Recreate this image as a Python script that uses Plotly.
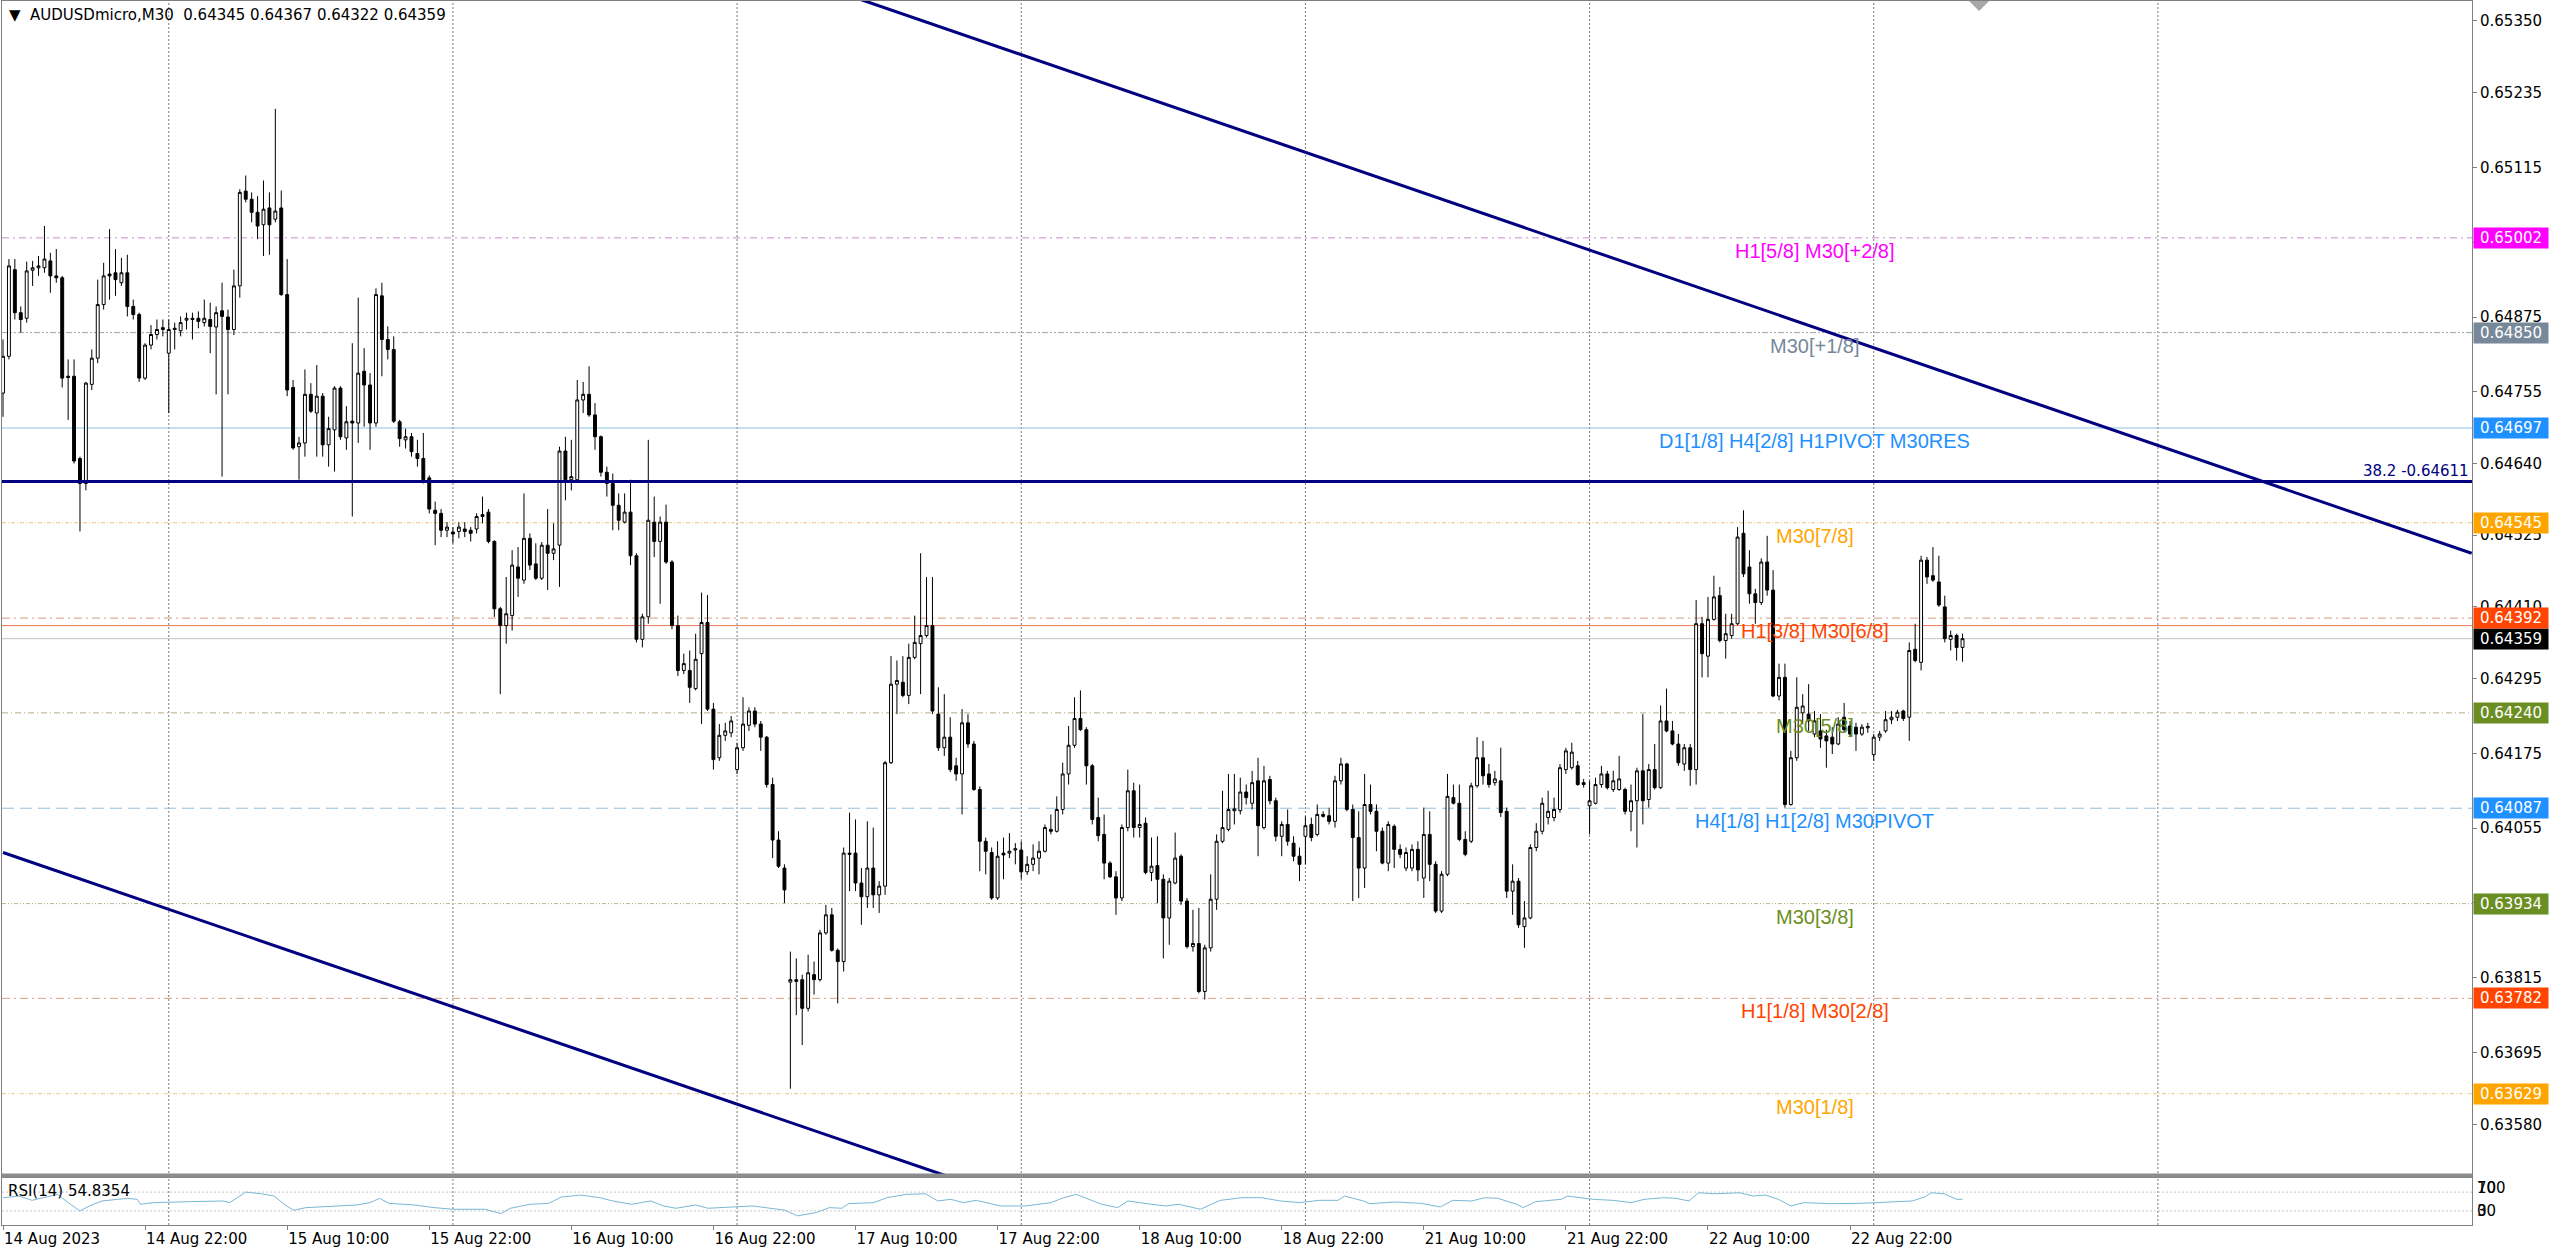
import plotly.graph_objects as go

# ---------------- data ----------------
bar_open = [
 0.64753,0.64812,0.64951,0.64882,0.64873,0.64950,0.64954,0.64954,0.64965,0.64941,
 0.64938,0.64780,0.64780,0.64648,0.64608,0.64767,0.64809,0.64895,0.64944,0.64946,
 0.64930,0.64946,0.64892,0.64879,0.64777,0.64830,0.64847,0.64855,0.64817,0.64857,
 0.64853,0.64870,0.64873,0.64873,0.64866,0.64871,0.64859,0.64885,0.64875,0.64855,
 0.64925,0.65077,0.65064,0.65043,0.65023,0.65050,0.65032,0.65050,0.64911,0.64762,
 0.64667,0.64673,0.64751,0.64721,0.64748,0.64670,0.64694,0.64761,0.64681,0.64708,
 0.64705,0.64788,0.64766,0.64705,0.64909,0.64839,0.64823,0.64707,0.64678,0.64683,
 0.64656,0.64648,0.64617,0.64565,0.64560,0.64533,0.64530,0.64531,0.64535,0.64533,
 0.64535,0.64558,0.64562,0.64515,0.64407,0.64380,0.64396,0.64474,0.64453,0.64520,
 0.64479,0.64456,0.64509,0.64496,0.64509,0.64660,0.64614,0.64614,0.64742,0.64751,
 0.64718,0.64683,0.64626,0.64608,0.64573,0.64546,0.64562,0.64492,0.64358,0.64394,
 0.64546,0.64515,0.64546,0.64482,0.64380,0.64308,0.64308,0.64279,0.64335,0.64385,
 0.64246,0.64168,0.64204,0.64208,0.64149,0.64184,0.64220,0.64243,0.64222,0.64201,
 0.64125,0.64036,0.63991,0.63808,0.63809,0.63812,0.63766,0.63820,0.63812,0.63887,
 0.63916,0.63859,0.63841,0.64015,0.64015,0.63967,0.63945,0.63991,0.63948,0.63962,
 0.64160,0.64286,0.64289,0.64268,0.64329,0.64351,0.64364,0.64380,0.64238,0.64184,
 0.64201,0.64155,0.64142,0.64224,0.64190,0.64117,0.64034,0.64016,0.63943,0.64015,
 0.64015,0.64020,0.64020,0.63985,0.63997,0.64007,0.64018,0.64053,0.64050,0.64085,
 0.64142,0.64188,0.64231,0.64213,0.64155,0.64072,0.64045,0.63999,0.63977,0.63943,
 0.64056,0.64115,0.64056,0.64063,0.63984,0.63995,0.63973,0.63911,0.63967,0.64010,
 0.63938,0.63865,0.63870,0.63793,0.63863,0.63941,0.64034,0.64053,0.64083,0.64083,
 0.64113,0.64095,0.64131,0.64056,0.64133,0.64099,0.64042,0.64061,0.64031,0.64010,
 0.64042,0.64061,0.64045,0.64077,0.64075,0.64066,0.64131,0.64158,0.64085,0.64040,
 0.63991,0.64093,0.64082,0.64050,0.63999,0.64058,0.64021,0.63991,0.63991,0.64021,
 0.63975,0.64045,0.63997,0.63922,0.63981,0.64104,0.64095,0.64037,0.64034,0.64123,
 0.64168,0.64142,0.64128,0.64131,0.64082,0.63954,0.63970,0.63897,0.63911,0.64024,
 0.64050,0.64072,0.64072,0.64085,0.64149,0.64152,0.64155,0.64128,0.64091,0.64095,
 0.64125,0.64142,0.64117,0.64117,0.64117,0.64082,0.64099,0.64147,0.64101,0.64149,
 0.64120,0.64227,0.64211,0.64190,0.64158,0.64184,0.64149,0.64383,0.64331,0.64390,
 0.64428,0.64356,0.64364,0.64383,0.64528,0.64474,0.64431,0.64417,0.64482,0.64437,
 0.64267,0.64297,0.64093,0.64168,0.64240,0.64238,0.64206,0.64211,0.64203,0.64201,
 0.64190,0.64233,0.64219,0.64217,0.64206,0.64216,0.64173,0.64201,0.64211,0.64229,
 0.64233,0.64243,0.64233,0.64342,0.64321,0.64485,0.64460,0.64450,0.64410,0.64358,
 0.64364,0.64345]

bar_high = [
 0.64839,0.64968,0.64968,0.64892,0.64964,0.64965,0.64973,0.65021,0.64978,0.64984,
 0.64941,0.64807,0.64807,0.64651,0.64771,0.64823,0.64935,0.64962,0.65016,0.64984,
 0.64970,0.64975,0.64903,0.64882,0.64833,0.64862,0.64871,0.64871,0.64871,0.64866,
 0.64876,0.64882,0.64882,0.64884,0.64903,0.64898,0.64892,0.64930,0.64887,0.64951,
 0.65080,0.65102,0.65075,0.65069,0.65094,0.65075,0.65209,0.65078,0.64968,0.64774,
 0.64683,0.64791,0.64769,0.64798,0.64753,0.64715,0.64764,0.64764,0.64732,0.64833,
 0.64906,0.64825,0.64785,0.64921,0.64930,0.64860,0.64844,0.64710,0.64696,0.64689,
 0.64678,0.64689,0.64621,0.64579,0.64567,0.64546,0.64538,0.64546,0.64546,0.64538,
 0.64560,0.64587,0.64567,0.64517,0.64410,0.64458,0.64501,0.64506,0.64592,0.64528,
 0.64512,0.64514,0.64567,0.64544,0.64667,0.64683,0.64678,0.64774,0.64771,0.64796,
 0.64737,0.64685,0.64635,0.64624,0.64592,0.64592,0.64614,0.64496,0.64399,0.64678,
 0.64587,0.64555,0.64574,0.64485,0.64396,0.64335,0.64340,0.64367,0.64433,0.64429,
 0.64256,0.64222,0.64224,0.64235,0.64192,0.64265,0.64249,0.64249,0.64227,0.64203,
 0.64136,0.64050,0.63997,0.63857,0.63846,0.63820,0.63852,0.63841,0.63892,0.63932,
 0.63927,0.63862,0.64024,0.64080,0.64069,0.63991,0.64066,0.64056,0.63970,0.64163,
 0.64331,0.64324,0.64331,0.64351,0.64396,0.64496,0.64458,0.64458,0.64281,0.64270,
 0.64233,0.64168,0.64246,0.64238,0.64195,0.64122,0.64040,0.64024,0.64034,0.64040,
 0.64047,0.64031,0.64034,0.64010,0.64029,0.64034,0.64061,0.64077,0.64106,0.64160,
 0.64219,0.64265,0.64276,0.64217,0.64158,0.64104,0.64077,0.64002,0.63986,0.64061,
 0.64149,0.64128,0.64125,0.64072,0.64040,0.64042,0.63981,0.63975,0.64048,0.64013,
 0.63943,0.63924,0.63927,0.63868,0.63981,0.64045,0.64115,0.64142,0.64142,0.64136,
 0.64125,0.64147,0.64168,0.64155,0.64139,0.64104,0.64066,0.64085,0.64042,0.64024,
 0.64074,0.64072,0.64093,0.64082,0.64088,0.64139,0.64168,0.64160,0.64093,0.64082,
 0.64142,0.64125,0.64093,0.64056,0.64066,0.64061,0.64029,0.64024,0.64029,0.64034,
 0.64088,0.64082,0.64002,0.63986,0.64142,0.64125,0.64125,0.64050,0.64128,0.64201,
 0.64195,0.64158,0.64147,0.64184,0.64088,0.63997,0.63975,0.63938,0.64029,0.64063,
 0.64104,0.64115,0.64104,0.64158,0.64184,0.64192,0.64163,0.64134,0.64131,0.64136,
 0.64155,0.64147,0.64147,0.64171,0.64120,0.64125,0.64152,0.64238,0.64158,0.64190,
 0.64252,0.64279,0.64227,0.64206,0.64190,0.64190,0.64421,0.64394,0.64426,0.64460,
 0.64442,0.64399,0.64399,0.64538,0.64565,0.64501,0.64439,0.64488,0.64524,0.64469,
 0.64319,0.64319,0.64179,0.64297,0.64270,0.64286,0.64243,0.64238,0.64213,0.64217,
 0.64233,0.64256,0.64227,0.64224,0.64222,0.64224,0.64206,0.64211,0.64243,0.64243,
 0.64245,0.64245,0.64353,0.64383,0.64492,0.64490,0.64506,0.64492,0.64428,0.64372,
 0.64367,0.64367]

bar_low = [
 0.64715,0.64807,0.64871,0.64850,0.64866,0.64925,0.64941,0.64946,0.64914,0.64930,
 0.64762,0.64710,0.64640,0.64531,0.64597,0.64758,0.64801,0.64887,0.64903,0.64909,
 0.64925,0.64876,0.64871,0.64771,0.64774,0.64823,0.64839,0.64844,0.64721,0.64823,
 0.64844,0.64855,0.64839,0.64857,0.64860,0.64817,0.64751,0.64619,0.64751,0.64846,
 0.64906,0.65059,0.65027,0.65000,0.64973,0.64975,0.65027,0.64909,0.64748,0.64662,
 0.64614,0.64651,0.64721,0.64651,0.64651,0.64635,0.64627,0.64678,0.64662,0.64555,
 0.64673,0.64699,0.64662,0.64699,0.64780,0.64807,0.64705,0.64667,0.64664,0.64651,
 0.64635,0.64608,0.64560,0.64509,0.64522,0.64522,0.64512,0.64520,0.64522,0.64515,
 0.64528,0.64544,0.64512,0.64394,0.64270,0.64351,0.64372,0.64426,0.64447,0.64469,
 0.64453,0.64453,0.64437,0.64485,0.64442,0.64581,0.64597,0.64610,0.64721,0.64715,
 0.64662,0.64619,0.64587,0.64533,0.64533,0.64544,0.64477,0.64353,0.64345,0.64383,
 0.64490,0.64415,0.64479,0.64374,0.64299,0.64302,0.64256,0.64276,0.64222,0.64243,
 0.64149,0.64163,0.64195,0.64201,0.64142,0.64179,0.64211,0.64217,0.64179,0.64120,
 0.64007,0.63991,0.63935,0.63637,0.63755,0.63707,0.63761,0.63788,0.63809,0.63884,
 0.63857,0.63774,0.63825,0.63954,0.63954,0.63900,0.63927,0.63927,0.63919,0.63948,
 0.64158,0.64238,0.64265,0.64254,0.64326,0.64270,0.64361,0.64238,0.64179,0.64171,
 0.64145,0.64131,0.64077,0.64184,0.64115,0.63986,0.63981,0.63940,0.63940,0.63973,
 0.64007,0.63997,0.63973,0.63980,0.63986,0.63981,0.64016,0.64045,0.64048,0.64077,
 0.64125,0.64184,0.64211,0.64125,0.64061,0.64034,0.63973,0.63975,0.63916,0.63938,
 0.64050,0.64040,0.64040,0.63981,0.63970,0.63935,0.63846,0.63868,0.63965,0.63932,
 0.63862,0.63857,0.63790,0.63780,0.63857,0.63924,0.64031,0.64050,0.64061,0.64077,
 0.64093,0.64085,0.64010,0.64053,0.64093,0.64034,0.64010,0.64027,0.64002,0.63970,
 0.63997,0.64034,0.64042,0.64072,0.64061,0.64056,0.64125,0.64082,0.63938,0.63943,
 0.63959,0.64077,0.64018,0.63997,0.63986,0.63991,0.64007,0.63986,0.63986,0.63970,
 0.63943,0.63970,0.63919,0.63919,0.63978,0.64093,0.64034,0.64010,0.64031,0.64120,
 0.64125,0.64120,0.64123,0.64073,0.63943,0.63916,0.63895,0.63863,0.63909,0.64018,
 0.64045,0.64061,0.64066,0.64080,0.64142,0.64149,0.64123,0.64120,0.64045,0.64093,
 0.64120,0.64117,0.64113,0.64115,0.64077,0.64050,0.64024,0.64061,0.64088,0.64117,
 0.64118,0.64209,0.64188,0.64155,0.64147,0.64123,0.64125,0.64297,0.64297,0.64388,
 0.64353,0.64327,0.64359,0.64381,0.64458,0.64415,0.64383,0.64413,0.64428,0.64265,
 0.64260,0.64088,0.64091,0.64163,0.64222,0.64211,0.64201,0.64184,0.64152,0.64174,
 0.64188,0.64208,0.64201,0.64179,0.64203,0.64208,0.64163,0.64195,0.64208,0.64222,
 0.64227,0.64227,0.64195,0.64321,0.64308,0.64447,0.64450,0.64410,0.64353,0.64340,
 0.64324,0.64322]

bar_close = [
 0.64812,0.64957,0.64882,0.64871,0.64949,0.64954,0.64957,0.64968,0.64941,0.64938,
 0.64777,0.64778,0.64644,0.64608,0.64769,0.64809,0.64895,0.64941,0.64941,0.64935,
 0.64946,0.64892,0.64879,0.64777,0.64830,0.64847,0.64855,0.64858,0.64855,0.64855,
 0.64866,0.64873,0.64871,0.64868,0.64873,0.64860,0.64882,0.64876,0.64855,0.64925,
 0.65075,0.65064,0.65043,0.65021,0.65048,0.65023,0.65045,0.64911,0.64758,0.64665,
 0.64673,0.64751,0.64724,0.64748,0.64670,0.64696,0.64761,0.64683,0.64707,0.64705,
 0.64785,0.64766,0.64705,0.64911,0.64839,0.64823,0.64708,0.64680,0.64683,0.64659,
 0.64648,0.64614,0.64567,0.64560,0.64533,0.64538,0.64527,0.64538,0.64531,0.64528,
 0.64555,0.64555,0.64515,0.64407,0.64380,0.64399,0.64477,0.64456,0.64520,0.64477,
 0.64456,0.64509,0.64496,0.64503,0.64660,0.64614,0.64619,0.64742,0.64751,0.64718,
 0.64683,0.64626,0.64608,0.64573,0.64549,0.64562,0.64492,0.64358,0.64394,0.64549,
 0.64515,0.64546,0.64482,0.64380,0.64308,0.64319,0.64281,0.64326,0.64385,0.64246,
 0.64165,0.64204,0.64211,0.64227,0.64184,0.64222,0.64243,0.64222,0.64201,0.64125,
 0.64036,0.63994,0.63956,0.63812,0.63812,0.63766,0.63823,0.63812,0.63887,0.63916,
 0.63859,0.63841,0.64015,0.64013,0.63967,0.63945,0.63991,0.63948,0.63962,0.64160,
 0.64286,0.64292,0.64268,0.64329,0.64353,0.64364,0.64380,0.64243,0.64184,0.64201,
 0.64149,0.64142,0.64224,0.64190,0.64117,0.64034,0.64018,0.63943,0.64010,0.64012,
 0.64018,0.64022,0.63985,0.63997,0.64007,0.64018,0.64056,0.64050,0.64085,0.64142,
 0.64188,0.64231,0.64213,0.64155,0.64069,0.64043,0.63999,0.63977,0.63943,0.64056,
 0.64115,0.64056,0.64061,0.63984,0.63994,0.63973,0.63911,0.63970,0.64007,0.63938,
 0.63865,0.63870,0.63793,0.63863,0.63941,0.64034,0.64056,0.64085,0.64086,0.64113,
 0.64104,0.64128,0.64059,0.64131,0.64099,0.64042,0.64061,0.64034,0.64010,0.63997,
 0.64059,0.64040,0.64077,0.64074,0.64066,0.64131,0.64158,0.64085,0.64040,0.63991,
 0.64093,0.64082,0.64050,0.63999,0.64061,0.64021,0.64013,0.64016,0.64021,0.63988,
 0.64045,0.63997,0.63922,0.63981,0.64106,0.64095,0.64037,0.64013,0.64123,0.64168,
 0.64139,0.64125,0.64134,0.64080,0.63954,0.63970,0.63900,0.63911,0.64024,0.64050,
 0.64095,0.64082,0.64085,0.64152,0.64179,0.64177,0.64125,0.64125,0.64099,0.64125,
 0.64142,0.64120,0.64131,0.64134,0.64082,0.64099,0.64147,0.64099,0.64149,0.64120,
 0.64227,0.64211,0.64190,0.64160,0.64184,0.64149,0.64383,0.64335,0.64390,0.64426,
 0.64356,0.64367,0.64383,0.64522,0.64463,0.64431,0.64417,0.64482,0.64437,0.64267,
 0.64297,0.64093,0.64168,0.64249,0.64251,0.64227,0.64227,0.64198,0.64195,0.64190,
 0.64222,0.64213,0.64206,0.64206,0.64217,0.64218,0.64201,0.64206,0.64229,0.64233,
 0.64241,0.64231,0.64340,0.64324,0.64485,0.64458,0.64453,0.64413,0.64359,0.64364,
 0.64345,0.64359]

bar_index = list(range(len(bar_close)))

date_tick_bars = [0, 24, 48, 72, 96, 120, 144, 168, 192, 216, 240, 264, 288, 312]
date_tick_text = ["14 Aug 2023", "14 Aug 22:00", "15 Aug 10:00", "15 Aug 22:00",
                  "16 Aug 10:00", "16 Aug 22:00", "17 Aug 10:00", "17 Aug 22:00",
                  "18 Aug 10:00", "18 Aug 22:00", "21 Aug 10:00", "21 Aug 22:00",
                  "22 Aug 10:00", "22 Aug 22:00"]
day_separator_bars = [28, 76, 124, 172, 220, 268, 316, 364]
shift_marker_bars = [332.1, 333.8, 335.5]

price_tick_vals = [0.65350, 0.65235, 0.65115, 0.64995, 0.64875, 0.64755, 0.64640, 0.64525,
                   0.64410, 0.64295, 0.64175, 0.64055, 0.63935, 0.63815, 0.63695, 0.63580]

level_prices = [0.65002, 0.64850, 0.64697, 0.64545, 0.64392, 0.64240, 0.64087, 0.63934, 0.63782, 0.63629]
level_names = ["H1[5/8] M30[+2/8]", "M30[+1/8]", "D1[1/8] H4[2/8] H1PIVOT M30RES", "M30[7/8]",
               "H1[3/8] M30[6/8]", "M30[5/8]", "H4[1/8] H1[2/8] M30PIVOT", "M30[3/8]",
               "H1[1/8] M30[2/8]", "M30[1/8]"]
level_colors = ["#FF00FF", "#778899", "#1E90FF", "#FFA500", "#FF4500",
                "#6B8E23", "#1E90FF", "#6B8E23", "#FF4500", "#FFA500"]
level_line_colors = ["#d08ad0", "#a2a6aa", "#8cc4e4", "#e8c37a", "#d99a80",
                     "#b9ad86", "#8fc0e2", "#b4b494", "#dca084", "#ecc885"]
level_line_dash = ["7px,4px,2px,4px", "6px,2px,2px,2px,2px,2px", "solid", "4px,2px,1px,2px",
                   "8px,4px,2px,4px", "6px,3px,1px,3px", "12px,6px", "4px,2px,1px,2px,1px,2px",
                   "8px,4px,2px,4px", "4px,2px,1px,2px"]
level_label_bar = 306

fib_price = 0.64611
fib_text = "38.2 -0.64611"
bid_price = 0.64359
ask_price = 0.64380

upper_trend_bars = [145, 417]
upper_trend_prices = [0.65384, 0.64496]
lower_trend_bars = [0, 160]
lower_trend_prices = [0.64016, 0.63495]

rsi_bars = [0, 2.7, 4.9, 7, 9.2, 11.4, 13, 14.6, 16.7, 21, 22.7, 23.2, 25.4, 31.8, 37.2, 38.3,
            41, 43.7, 45.8, 47.5, 49.1, 51.2, 55.5, 59.8, 62, 63.6, 65.2, 69.5, 72.8, 76, 81.4,
            84.1, 85.7, 89, 92.2, 94.3, 97.6, 100.8, 103, 106.2, 107.8, 109.4, 111.6, 113.7,
            117, 119.1, 123.4, 126.7, 132.1, 134.2, 137.4, 139.6, 141.7, 142.8, 147.1, 149.3,
            152.5, 155.8, 157.9, 160.1, 162.2, 164.4, 168.5, 172.7, 177, 179.2, 181.3, 183.5,
            185.6, 188.3, 190, 193.2, 196.4, 198.6, 202.3, 205.6, 209.3, 212.6, 215.8, 219,
            222.3, 225.5, 226.6, 229.8, 230.9, 235.2, 239.5, 242.8, 244.9, 248.1, 250.3, 252.5,
            255.7, 256.8, 258.9, 263.2, 264.3, 268.6, 271.9, 275.1, 277.2, 280.5, 282.6, 284.8,
            286.4, 289.1, 293.4, 295.6, 297.7, 299.9, 302, 304.2, 308.5, 313.9, 317.1, 320.3,
            322.5, 324.7, 325.7, 327.9, 330, 331]
rsi_values = [58.1, 61.6, 52.5, 58.1, 65.1, 44, 30, 40.5, 51.1, 56.7, 54.6, 44, 47.6, 49.7, 51.1, 47.6,
              70, 66.5, 61.6, 44, 31.4, 37, 40.5, 42.6, 47.6, 56.7, 46.1, 42.6, 37, 33.5, 33.5,
              24.4, 35.6, 44, 46.1, 59.5, 63.7, 58.1, 51.1, 44, 47.6, 51.1, 40.5, 35.6,
              42.6, 35.6, 38.4, 40.5, 31.4, 19.5, 26.5, 37, 35.6, 45.4, 47.6, 58.1,
              65.1, 66.5, 51.1, 54.6, 47.6, 52.5, 40.5, 40.5, 47.6, 58.1, 65.1, 54.6,
              44, 37, 51.1, 45.4, 40.5, 44, 33.5, 52.5, 58.1, 58.1, 51.1, 47.6,
              52.5, 52.5, 61.6, 51.1, 45.4, 49, 46.1, 38.4, 52.5, 51.1, 58.1, 56.7,
              44, 37, 49.7, 54.6, 61.6, 54.6, 52.5, 47.6, 54.6, 58.1, 56.7, 51.1,
              68.6, 66.5, 68.6, 61.6, 63.7, 54.6, 40.5, 47.6, 45.4, 46.1, 47.6, 49.7,
              51.1, 60.2, 68.6, 66.5, 54.6, 54.8354]
rsi_levels = [70, 30]
rsi_title = "RSI(14) 54.8354"
chart_title = "AUDUSDmicro,M30  0.64345 0.64367 0.64322 0.64359"

# ---------------- figure ----------------
W, H = 2560, 1251
m_l, m_r, m_t, m_b = 2, 88, 1, 26
plot_h = H - m_t - m_b


def paper_y(pix):
    """pixel row (from top of page) -> paper fraction"""
    return (H - m_b - pix) / plot_h


main_bottom = paper_y(1176)
rsi_top = paper_y(1178)
x_range = [-0.17, 417.06]
y_range = [0.63497, 0.65382]
AXIS_FONT = dict(family="DejaVu Sans", size=15, color="#000000")
LABEL_FONT = "Liberation Sans"

fig = go.Figure()

fig.add_trace(go.Candlestick(
    x=bar_index, open=bar_open, high=bar_high, low=bar_low, close=bar_close,
    xaxis="x", yaxis="y",
    increasing=dict(line=dict(color="#000000", width=1), fillcolor="#ffffff"),
    decreasing=dict(line=dict(color="#000000", width=1), fillcolor="#000000"),
    whiskerwidth=0, hoverinfo="skip", showlegend=False))

fig.add_trace(go.Scatter(x=upper_trend_bars, y=upper_trend_prices, mode="lines",
                         line=dict(color="#000080", width=3), xaxis="x", yaxis="y",
                         hoverinfo="skip", showlegend=False))
fig.add_trace(go.Scatter(x=lower_trend_bars, y=lower_trend_prices, mode="lines",
                         line=dict(color="#000080", width=3), xaxis="x", yaxis="y",
                         hoverinfo="skip", showlegend=False))

fig.add_trace(go.Scatter(x=rsi_bars, y=rsi_values, mode="lines",
                         line=dict(color="#7ab8d4", width=1), xaxis="x2", yaxis="y2",
                         hoverinfo="skip", showlegend=False))

shapes = []
# day separators (dotted vertical grid)
for b in day_separator_bars:
    shapes.append(dict(type="line", xref="x", yref="paper", x0=b, x1=b, y0=0, y1=1,
                       line=dict(color="#7a7a7a", width=1, dash="2px,2px"), layer="below"))
# level lines
for p, c, d in zip(level_prices, level_line_colors, level_line_dash):
    shapes.append(dict(type="line", xref="paper", yref="y", x0=0, x1=1, y0=p, y1=p,
                       line=dict(color=c, width=1, dash=d), layer="below"))
# ask / bid lines
shapes.append(dict(type="line", xref="paper", yref="y", x0=0, x1=1, y0=ask_price, y1=ask_price,
                   line=dict(color="#e87a55", width=1), layer="below"))
shapes.append(dict(type="line", xref="paper", yref="y", x0=0, x1=1, y0=bid_price, y1=bid_price,
                   line=dict(color="#c4c4c4", width=1), layer="below"))
# fibo 38.2 line
shapes.append(dict(type="line", xref="paper", yref="y", x0=0, x1=1, y0=fib_price, y1=fib_price,
                   line=dict(color="#000080", width=3), layer="above"))
# RSI levels
for v in rsi_levels:
    shapes.append(dict(type="line", xref="paper", yref="y2", x0=0, x1=1, y0=v, y1=v,
                       line=dict(color="#c8c8c8", width=1, dash="2px,2px"), layer="below"))
# thick separator between the price window and the RSI window
shapes.append(dict(type="rect", xref="paper", yref="paper", x0=0, x1=1,
                   y0=paper_y(1177.5), y1=paper_y(1173.5),
                   fillcolor="#8c8c8c", line=dict(width=0), layer="above"))
# chart-shift marker (small grey triangle at the top edge)
sx0, sxm, sx1 = shift_marker_bars
shapes.append(dict(type="path", xref="x", yref="paper",
                   path=f"M {sx0},{paper_y(1)} L {sx1},{paper_y(1)} L {sxm},{paper_y(11)} Z",
                   fillcolor="#a8a8a8", line=dict(width=0), layer="above"))

annotations = []
# in-chart level labels
for p, name, c in zip(level_prices, level_names, level_colors):
    annotations.append(dict(x=level_label_bar, y=p, xref="x", yref="y", text=name,
                            showarrow=False, xanchor="center", yanchor="top", yshift=0,
                            font=dict(family=LABEL_FONT, size=20, color=c)))
# fibo label
annotations.append(dict(x=1, y=fib_price, xref="paper", yref="y", text=fib_text, showarrow=False,
                        xanchor="right", yanchor="bottom", xshift=-1, yshift=0,
                        font=dict(family="DejaVu Sans", size=15, color="#000080")))
# price boxes on the right axis (bid first, so the others overlap it)
box_prices = [bid_price] + level_prices
box_colors = ["#000000"] + level_colors
for p, c in zip(box_prices, box_colors):
    annotations.append(dict(x=1, y=p, xref="paper", yref="y", text=f"{p:.5f}", showarrow=False,
                            xanchor="left", yanchor="middle", xshift=1, width=70, height=16,
                            align="center", bgcolor=c, borderpad=2,
                            font=dict(family="DejaVu Sans", size=15, color="#ffffff")))
# chart title
annotations.append(dict(x=0, y=1, xref="paper", yref="paper", text="\u25BC  " + chart_title,
                        showarrow=False, xanchor="left", yanchor="top", xshift=5, yshift=-3,
                        font=AXIS_FONT))
# RSI title
annotations.append(dict(x=0, y=100, xref="paper", yref="y2", text=rsi_title, showarrow=False,
                        xanchor="left", yanchor="top", xshift=4, yshift=-2, font=AXIS_FONT))
# RSI scale labels (MT4 draws them overlapping)
for txt, v in [("100", 79), ("70", 79), ("30", 30), ("0", 30)]:
    annotations.append(dict(x=1, y=v, xref="paper", yref="y2", text=txt, showarrow=False,
                            xanchor="left", yanchor="middle", xshift=3, font=AXIS_FONT))

fig.update_layout(
    width=W, height=H,
    margin=dict(l=m_l, r=m_r, t=m_t, b=m_b, autoexpand=False),
    paper_bgcolor="#ffffff", plot_bgcolor="#ffffff",
    showlegend=False,
    xaxis=dict(domain=[0, 1], anchor="y", range=x_range, showticklabels=False, ticks="",
               showgrid=False, zeroline=False, showline=True, linecolor="#808080", linewidth=1,
               mirror=True, rangeslider=dict(visible=False), fixedrange=True),
    yaxis=dict(domain=[main_bottom, 1], anchor="x", range=y_range, side="right",
               tickmode="array", tickvals=price_tick_vals,
               ticktext=[f"{v:.5f}" for v in price_tick_vals],
               ticks="outside", ticklen=4, tickcolor="#808080", tickfont=AXIS_FONT,
               showgrid=False, zeroline=False, showline=True, linecolor="#808080", linewidth=1,
               mirror=True, automargin=False),
    xaxis2=dict(domain=[0, 1], anchor="y2", matches="x", range=x_range,
                tickmode="array", tickvals=date_tick_bars, ticktext=date_tick_text,
                ticklabelposition="outside right", ticks="outside", ticklen=4,
                tickcolor="#808080", tickfont=AXIS_FONT, showgrid=False, zeroline=False,
                showline=True, linecolor="#808080", linewidth=1, mirror=True, automargin=False),
    yaxis2=dict(domain=[0, rsi_top], anchor="x2", range=[0, 100], side="right",
                showticklabels=False, ticks="", showgrid=False, zeroline=False,
                showline=True, linecolor="#808080", linewidth=1, mirror=True),
    shapes=shapes,
    annotations=annotations,
)

fig.write_html("out.html", config={"displayModeBar": False},
               post_script="document.body.style.margin='0px';document.body.style.overflow='hidden';")
